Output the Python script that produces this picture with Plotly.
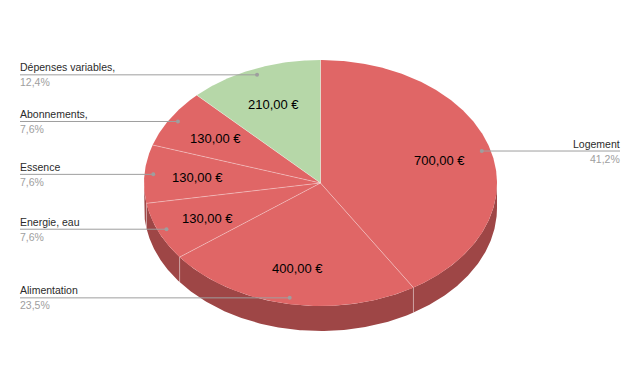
import numpy as np
import plotly.graph_objects as go

# ---- data ----
categories = ["Logement", "Alimentation", "Energie, eau", "Essence", "Abonnements,", "Dépenses variables,"]
values = [700, 400, 130, 130, 130, 210]
top_colors = ["#e06666", "#e06666", "#e06666", "#e06666", "#e06666", "#b6d7a8"]
side_colors = ["#9e4646", "#9e4646", "#9e4646", "#9e4646", "#9e4646", "#7f9775"]

# ---- geometry (pixel space) ----
CX, CY, RX, RY, DEPTH = 320.5, 183.0, 176.5, 123.0, 25.0
FONT = "Liberation Sans, Arial, sans-serif"

total = float(sum(values))
fracs = [v / total for v in values]
starts = np.concatenate([[0.0], np.cumsum(fracs)[:-1]]) * 360.0
ends = np.cumsum(fracs) * 360.0


def pt(theta, r=1.0, dy=0.0):
    t = np.radians(theta)
    return CX + RX * r * np.sin(t), CY - RY * r * np.cos(t) + dy


def euro(v):
    return f"{v:,.2f}".replace(",", " ").replace(".", ",") + " €"


fig = go.Figure()

# side faces (visible between 90 and 270 degrees)
for a, b, sc in zip(starts, ends, side_colors):
    lo, hi = max(a, 90.0), min(b, 270.0)
    if hi <= lo:
        continue
    th = np.linspace(lo, hi, 120)
    xt, yt = pt(th)
    xb, yb = pt(th[::-1], dy=DEPTH)
    fig.add_trace(go.Scatter(x=np.concatenate([xt, xb]), y=np.concatenate([yt, yb]),
                             fill="toself", fillcolor=sc, mode="lines",
                             line=dict(width=0, color=sc), hoverinfo="skip"))

# vertical boundary lines on the side
for b in ends[:-1]:
    if 90.0 < b < 270.0:
        x0, y0 = pt(b)
        fig.add_trace(go.Scatter(x=[x0, x0], y=[y0, y0 + DEPTH], mode="lines",
                                 line=dict(width=1, color="rgba(255,255,255,0.35)"),
                                 hoverinfo="skip"))

# top faces
for a, b, tc in zip(starts, ends, top_colors):
    th = np.linspace(a, b, max(int(b - a) * 2, 10))
    xs, ys = pt(th)
    fig.add_trace(go.Scatter(x=np.concatenate([[CX], xs, [CX]]), y=np.concatenate([[CY], ys, [CY]]),
                             fill="toself", fillcolor=tc, mode="lines",
                             line=dict(width=0, color=tc), hoverinfo="skip"))

# radial boundary lines
for b in starts:
    x1, y1 = pt(b)
    fig.add_trace(go.Scatter(x=[CX, x1], y=[CY, y1], mode="lines",
                             line=dict(width=1, color="rgba(255,255,255,0.35)"),
                             hoverinfo="skip"))

annotations = []
for cat, v, f, a, b in zip(categories, values, fracs, starts, ends):
    mid = (a + b) / 2.0
    # value label inside slice
    lx, ly = pt(mid, 0.70)
    annotations.append(dict(x=lx, y=ly + 1, text=euro(v), showarrow=False,
                            font=dict(family=FONT, size=13, color="#000000"),
                            xanchor="center", yanchor="middle"))
    # leader line and dot
    dx, dy = pt(mid, 0.95)
    right = mid < 180.0
    ex = 620.0 if right else 20.0
    tx = ex + 2 if right else ex - 2
    fig.add_trace(go.Scatter(x=[ex, dx], y=[dy, dy], mode="lines",
                             line=dict(width=1, color="#9e9e9e"), hoverinfo="skip"))
    fig.add_trace(go.Scatter(x=[dx], y=[dy], mode="markers",
                             marker=dict(size=4, color="#9e9e9e"), hoverinfo="skip"))
    anchor = "right" if right else "left"
    annotations.append(dict(x=tx, y=dy - 7.5, text=cat, showarrow=False,
                            font=dict(family=FONT, size=10.5, color="#2b2b2b"),
                            xanchor=anchor, yanchor="middle"))
    pct = f"{f * 100:.1f}".replace(".", ",") + "%"
    annotations.append(dict(x=tx, y=dy + 7.5, text=pct, showarrow=False,
                            font=dict(family=FONT, size=10.5, color="#9e9e9e"),
                            xanchor=anchor, yanchor="middle"))

fig.update_layout(
    width=640, height=392,
    margin=dict(l=0, r=0, t=0, b=0),
    paper_bgcolor="#ffffff", plot_bgcolor="#ffffff",
    showlegend=False,
    xaxis=dict(range=[0, 640], visible=False, fixedrange=True),
    yaxis=dict(range=[392, 0], visible=False, fixedrange=True),
    annotations=annotations,
)

fig.write_html("out.html")
